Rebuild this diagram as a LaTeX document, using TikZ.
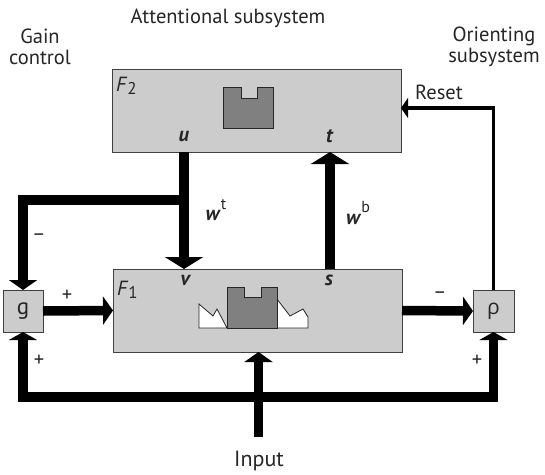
\documentclass[tikz,border=0pt]{standalone}
\usepackage{fontspec}
\setmainfont{PT Sans}
\newfontfamily\grkfont{Open Sans}
\usetikzlibrary{arrows.meta}
\begin{document}
\begin{tikzpicture}[x=1pt,y=-1pt,
  box/.style={draw=black!75, line width=0.8pt, fill=black!20, inner sep=0pt, outer sep=0pt},
  fat/.style={line width=9.5pt, draw=black},
  bigtip/.style={-{Triangle[length=12pt,width=38pt]}},
  midtip/.style={-{Triangle[length=10pt,width=28pt]}},
  lowtip/.style={-{Triangle[length=8pt,width=28pt]}},
  resetline/.style={line width=3.6pt, draw=black, -{Triangle[length=7pt,width=20pt]}},
  lbl/.style={font=\fontsize{20.5}{21}\selectfont, text=black!85, inner sep=0pt},
  shapegray/.style={fill=black!50, draw=black!85, line width=0.8pt},
  shapewhite/.style={fill=white, draw=black!85, line width=0.8pt}
]
\useasboundingbox (0,0) rectangle (545,474);

% boxes
\node[box, minimum width=289pt, minimum height=83pt] (F2) at (256.5,110.5) {};
\node[box, minimum width=289pt, minimum height=83pt] (F1) at (257.5,310.5) {};
\node[box, lbl, font=\fontsize{23}{23}\selectfont, minimum width=40pt, minimum height=42pt] (g) at (23,311) {g};
\node[box, lbl, font=\fontsize{21}{21}\selectfont\grkfont, minimum width=41pt, minimum height=42pt] (rho) at (493.5,311) {ρ};

% patterns
\draw[shapegray] (223,87) -- (241,87) -- (241,98) -- (257,98) -- (257,87) -- (273,87) -- (273,128) -- (223,128) -- cycle;
\draw[shapewhite] (199,328) -- (199,304) -- (213,316) -- (217,309) -- (227,328) -- cycle;
\draw[shapewhite] (277,299) -- (290,316) -- (303,309) -- (308,317) -- (308,328) -- (277,328) -- cycle;
\draw[shapegray] (227,287) -- (244,287) -- (244,297) -- (261,297) -- (261,287) -- (277,287) -- (277,328) -- (227,328) -- cycle;

% coordinates
\coordinate (ux) at (184,0);
\coordinate (tx) at (330,0);
\coordinate (br) at (184,200);
\coordinate (bot) at (258.5,397);
\coordinate (inp) at (258.5,437);
\coordinate (ry) at (0,108);

% connectors
\draw[fat,bigtip] (F2.south -| ux) -- (F1.north -| ux);
\draw[fat,bigtip] (F1.north -| tx) -- (F2.south -| tx);
\draw[fat,midtip] (br) -| (g.north);
\draw[fat,midtip] (g.east) -- (F1.west);
\draw[fat,midtip] (F1.east) -- (rho.west);
\draw[fat,lowtip] (bot) -| (g.south);
\draw[fat,lowtip] (bot) -| (rho.south);
\draw[fat,midtip] (inp) -- (F1.south -| inp);
\draw[resetline] (rho.north) |- (F2.east |- ry);

% labels
\node[lbl] (att) at (228,18) {Attentional subsystem};
\node[lbl, align=center] (gain) at (40,47) {Gain\\control};
\node[lbl, align=center] (ori) at (494,47) {Orienting\\subsystem};
\node[lbl, font=\fontsize{22}{22}\selectfont] (input) at (259,461) {Input};
\node[lbl] (reset) at (439,92) {Reset};
\node[lbl, anchor=west] (f2l) at (116,86) {\textit{F}\raisebox{-0.35ex}{\fontsize{17}{17}\selectfont 2}};
\node[lbl, anchor=west] (f1l) at (117,290) {\textit{F}\raisebox{-0.35ex}{\fontsize{17}{17}\selectfont 1}};
\node[lbl] (ul) at (184,137) {\textbf{\textit{u}}};
\node[lbl] (tl) at (330,136) {\textbf{\textit{t}}};
\node[lbl] (vl) at (186,280) {\textbf{\textit{v}}};
\node[lbl] (sl) at (329,280) {\textbf{\textit{s}}};
\node[lbl] (wt) at (216,210) {\textbf{\textit{w}}\raisebox{1.1ex}{\fontsize{16}{16}\selectfont t}};
\node[lbl] (wb) at (358,213) {\textbf{\textit{w}}\raisebox{1.1ex}{\fontsize{16}{16}\selectfont b}};
\node[lbl] (m1) at (39,237) {\textendash};
\node[lbl] (p1) at (67,296) {+};
\node[lbl] (p2) at (39,361) {+};
\node[lbl] (m2) at (440,295) {\textendash};
\node[lbl] (p3) at (477,361) {+};
\end{tikzpicture}
\end{document}
